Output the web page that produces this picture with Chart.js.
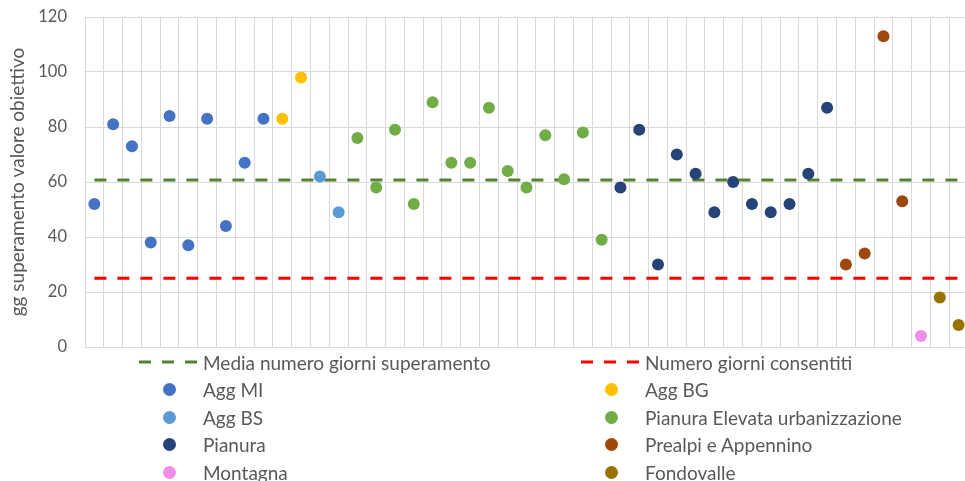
<!DOCTYPE html>
<html>
<head>
<meta charset="utf-8">
<script src="https://cdn.jsdelivr.net/npm/chart.js@4.4.1/dist/chart.umd.min.js"></script>
<style>
    html, body { margin: 0; padding: 0; background: #fff; overflow: hidden; }
    #wrap { position: relative; width: 974px; height: 481px; }
    #legend { position: absolute; left: 0; top: 0; }
    .item {
        position: absolute; height: 28px; display: flex; align-items: center;
        font-family: Lato, sans-serif; font-size: 19px; color: #595959; white-space: nowrap;
    }
    .sample { width: 60px; height: 28px; display: flex; align-items: center; justify-content: center; margin-right: 4px; }
    .dot { width: 13px; height: 13px; border-radius: 50%; }
</style>
</head>
<body>
<div id="wrap">
    <canvas id="chart" width="974" height="481"></canvas>
    <div id="legend"></div>
</div>
<script>
// ================= DATA =================
const aggMi = [52, 81, 73, 38, 84, 37, 83, 44, 67, 83];
const aggBg = [83, 98];
const aggBs = [62, 49];
const pianuraElevata = [76, 58, 79, 52, 89, 67, 67, 87, 64, 58, 77, 61, 78, 39];
const pianura = [58, 79, 30, 70, 63, 49, 60, 52, 49, 52, 63, 87];
const prealpi = [30, 34, 113, 53];
const montagna = [4];
const fondovalle = [18, 8];

const mediaGiorni = 60.7;
const giorniConsentiti = 25;

const yMin = 0;
const yMax = 120;
const yStep = 20;

const groups = [
    { label: "Agg MI", values: aggMi, color: "#4472c4" },
    { label: "Agg BG", values: aggBg, color: "#ffc000" },
    { label: "Agg BS", values: aggBs, color: "#5b9bd5" },
    { label: "Pianura Elevata urbanizzazione", values: pianuraElevata, color: "#70ad47" },
    { label: "Pianura", values: pianura, color: "#264478" },
    { label: "Prealpi e Appennino", values: prealpi, color: "#9e480e" },
    { label: "Montagna", values: montagna, color: "#f18ee9" },
    { label: "Fondovalle", values: fondovalle, color: "#997300" }
];

// one category per station, stations follow the group order
const labels = [];
const groupDatasets = groups.map(g => {
    const data = g.values.map(v => {
        const name = String(labels.length + 1);
        labels.push(name);
        return { x: name, y: v };
    });
    return {
        label: g.label,
        data: data,
        showLine: false,
        pointRadius: 6,
        pointHoverRadius: 6,
        pointBorderWidth: 0,
        pointBackgroundColor: g.color,
        borderColor: g.color,
        backgroundColor: g.color,
        order: 0
    };
});

const first = labels[0];
const last = labels[labels.length - 1];

const lineDatasets = [
    {
        label: "Media numero giorni superamento",
        data: [{ x: first, y: mediaGiorni }, { x: last, y: mediaGiorni }],
        borderColor: "#548235",
        borderWidth: 3,
        borderDash: [12, 11],
        pointRadius: 0,
        fill: false,
        order: 1
    },
    {
        label: "Numero giorni consentiti",
        data: [{ x: first, y: giorniConsentiti }, { x: last, y: giorniConsentiti }],
        borderColor: "#ff0000",
        borderWidth: 3,
        borderDash: [12, 11],
        pointRadius: 0,
        fill: false,
        order: 1
    }
];

const gridColor = "#d9d9d9";
const textColor = "#595959";

const chart = new Chart(document.getElementById("chart"), {
    type: "line",

    data: {
        labels: labels,
        datasets: lineDatasets.concat(groupDatasets)
    },

    options: {
        responsive: false,
        animation: false,
        layout: {
            padding: { top: 17, right: 3, bottom: 134, left: 0 }
        },

        plugins: {
            legend: { display: false },
            tooltip: { enabled: false }
        },

        scales: {
            x: {
                type: "category",
                offset: true,
                ticks: { display: false },
                grid: {
                    offset: true,
                    color: gridColor,
                    drawTicks: false
                },
                border: { color: gridColor },
                afterFit: s => { s.height = 0; }
            },

            y: {
                min: yMin,
                max: yMax,
                ticks: {
                    stepSize: yStep,
                    padding: 0,
                    color: textColor,
                    font: { family: "Lato", size: 16.5 }
                },
                grid: {
                    color: gridColor,
                    drawTicks: true,
                    tickLength: 18,
                    tickColor: "rgba(0,0,0,0)"
                },
                border: { display: false },
                title: {
                    display: true,
                    text: "gg superamento valore obiettivo",
                    color: textColor,
                    font: { family: "Lato", size: 19 },
                    padding: { top: 6, bottom: 0 }
                },
                afterFit: s => { s.width = 85; }
            }
        }
    }
});

// ================= LEGEND (two columns, filled row by row) =================
const legendEl = document.getElementById("legend");
const colX = [139, 581];
const rowTop = 348;
const rowH = 27.5;

chart.data.datasets.forEach((ds, i) => {
    const item = document.createElement("div");
    item.className = "item";
    item.style.left = colX[i % 2] + "px";
    item.style.top = (rowTop + Math.floor(i / 2) * rowH) + "px";

    const sample = document.createElement("div");
    sample.className = "sample";
    if (ds.showLine === false) {
        const dot = document.createElement("div");
        dot.className = "dot";
        dot.style.background = ds.pointBackgroundColor;
        sample.appendChild(dot);
    } else {
        sample.innerHTML = '<svg width="60" height="4"><line x1="0" y1="2" x2="60" y2="2" stroke="' +
            ds.borderColor + '" stroke-width="3" stroke-dasharray="12 11"/></svg>';
    }
    item.appendChild(sample);

    const text = document.createElement("span");
    text.textContent = ds.label;
    item.appendChild(text);
    legendEl.appendChild(item);
});
</script>
</body>
</html>
